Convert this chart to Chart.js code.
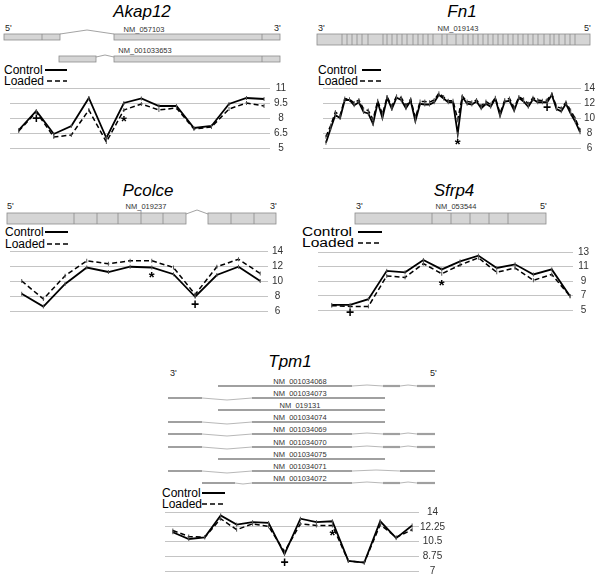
<!DOCTYPE html>
<html>
<head>
<meta charset="utf-8">
<script src="https://cdn.jsdelivr.net/npm/chart.js@4"></script>
<style>
html, body { margin: 0; padding: 0; background: #fff; }
#fig { position: relative; width: 600px; height: 579px; overflow: hidden; font-family: "Liberation Sans", Arial, sans-serif; }
#fig canvas { position: absolute; }
#genes { position: absolute; left: 0; top: 0; }
.ex { fill: #d5d5d5; stroke: #8c8c8c; stroke-width: 0.8; }
.dv { stroke: #8c8c8c; stroke-width: 0.8; }
.in { fill: none; stroke: #8c8c8c; stroke-width: 0.8; }
.te { stroke: #a0a0a0; stroke-width: 2.2; }
.ti { fill: none; stroke: #b8b8b8; stroke-width: 1; }
.nm { font-size: 7.5px; fill: #333; text-anchor: middle; }
.end { font-size: 9px; fill: #222; }
.ttl { font-size: 17px; font-style: italic; text-anchor: middle; }
.lg { font-size: 12px; }
</style>
</head>
<body>
<div id="fig">
<svg id="genes" width="600" height="579" font-family="Liberation Sans, Arial, sans-serif">
  <!-- titles -->
  <text class="ttl" x="142" y="17">Akap12</text>
  <text class="ttl" x="462" y="17">Fn1</text>
  <text class="ttl" x="148" y="196">Pcolce</text>
  <text class="ttl" x="454" y="196">Sfrp4</text>
  <text class="ttl" x="290" y="367">Tpm1</text>

  <!-- Akap12 transcripts -->
  <text class="end" x="5" y="31">5'</text>
  <text class="end" x="274" y="31">3'</text>
  <text class="nm" x="144" y="31.5">NM_057103</text>
  <rect class="ex" x="4" y="34" width="56" height="6"/>
  <line class="dv" x1="42" y1="34" x2="42" y2="40"/>
  <polyline class="in" points="60,34 87,30 114,34"/>
  <rect class="ex" x="114" y="34" width="166" height="6"/>
  <line class="dv" x1="262" y1="34" x2="262" y2="40"/>
  <text class="nm" x="145" y="52.5">NM_001033653</text>
  <rect class="ex" x="59" y="56" width="37" height="6"/>
  <polyline class="in" points="96,57 105,55 114,57"/>
  <rect class="ex" x="114" y="56" width="166" height="6"/>
  <line class="dv" x1="262" y1="56" x2="262" y2="62"/>

  <!-- Fn1 transcript -->
  <text class="end" x="318" y="31">3'</text>
  <text class="end" x="584" y="31">5'</text>
  <text class="nm" x="458" y="31">NM_019143</text>
  <rect class="ex" x="317" y="34" width="273" height="11"/>
  <g class="dv">
    <line x1="342" y1="34" x2="342" y2="45"/><line x1="347" y1="34" x2="347" y2="45"/>
    <line x1="352" y1="34" x2="352" y2="45"/><line x1="357" y1="34" x2="357" y2="45"/>
    <line x1="362" y1="34" x2="362" y2="45"/><line x1="368" y1="34" x2="368" y2="45"/>
    <line x1="383" y1="34" x2="383" y2="45"/><line x1="387" y1="34" x2="387" y2="45"/>
    <line x1="392" y1="34" x2="392" y2="45"/><line x1="397" y1="34" x2="397" y2="45"/>
    <line x1="402" y1="34" x2="402" y2="45"/><line x1="407" y1="34" x2="407" y2="45"/>
    <line x1="413" y1="34" x2="413" y2="45"/><line x1="418" y1="34" x2="418" y2="45"/>
    <line x1="423" y1="34" x2="423" y2="45"/><line x1="428" y1="34" x2="428" y2="45"/>
    <line x1="433" y1="34" x2="433" y2="45"/><line x1="442" y1="34" x2="442" y2="45"/>
    <line x1="447" y1="34" x2="447" y2="45"/><line x1="456" y1="34" x2="456" y2="45"/>
    <line x1="463" y1="34" x2="463" y2="45"/><line x1="468" y1="34" x2="468" y2="45"/>
    <line x1="473" y1="34" x2="473" y2="45"/><line x1="478" y1="34" x2="478" y2="45"/>
    <line x1="483" y1="34" x2="483" y2="45"/><line x1="488" y1="34" x2="488" y2="45"/>
    <line x1="493" y1="34" x2="493" y2="45"/><line x1="498" y1="34" x2="498" y2="45"/>
    <line x1="503" y1="34" x2="503" y2="45"/><line x1="508" y1="34" x2="508" y2="45"/>
    <line x1="513" y1="34" x2="513" y2="45"/><line x1="518" y1="34" x2="518" y2="45"/>
    <line x1="523" y1="34" x2="523" y2="45"/><line x1="528" y1="34" x2="528" y2="45"/>
    <line x1="533" y1="34" x2="533" y2="45"/><line x1="538" y1="34" x2="538" y2="45"/>
    <line x1="544" y1="34" x2="544" y2="45"/><line x1="550" y1="34" x2="550" y2="45"/>
    <line x1="554" y1="34" x2="554" y2="45"/><line x1="559" y1="34" x2="559" y2="45"/>
    <line x1="565" y1="34" x2="565" y2="45"/><line x1="570" y1="34" x2="570" y2="45"/>
    <line x1="575" y1="34" x2="575" y2="45"/>
  </g>

  <!-- Pcolce transcript -->
  <text class="end" x="7" y="209">5'</text>
  <text class="end" x="270" y="209">3'</text>
  <text class="nm" x="146" y="209">NM_019237</text>
  <rect class="ex" x="7" y="213" width="179" height="11"/>
  <line class="dv" x1="74" y1="213" x2="74" y2="224"/>
  <line class="dv" x1="97" y1="213" x2="97" y2="224"/>
  <line class="dv" x1="118" y1="213" x2="118" y2="224"/>
  <line class="dv" x1="141" y1="211" x2="141" y2="224"/>
  <line class="dv" x1="163" y1="213" x2="163" y2="224"/>
  <polyline class="in" points="186,214 197,210 208,214"/>
  <rect class="ex" x="208" y="213" width="68" height="11"/>
  <line class="dv" x1="231" y1="213" x2="231" y2="224"/>
  <line class="dv" x1="254" y1="213" x2="254" y2="224"/>

  <!-- Sfrp4 transcript -->
  <text class="end" x="356" y="209">3'</text>
  <text class="end" x="540" y="209">5'</text>
  <text class="nm" x="456" y="209">NM_053544</text>
  <rect class="ex" x="355" y="213" width="191" height="11"/>
  <line class="dv" x1="432" y1="213" x2="432" y2="224"/>
  <line class="dv" x1="451" y1="213" x2="451" y2="224"/>
  <line class="dv" x1="470" y1="213" x2="470" y2="224"/>
  <line class="dv" x1="489" y1="213" x2="489" y2="224"/>
  <line class="dv" x1="508" y1="213" x2="508" y2="224"/>

  <!-- Tpm1 transcripts -->
  <text class="end" x="170" y="376">3'</text>
  <text class="end" x="430" y="376">5'</text>

  <text class="nm" x="300" y="383.5">NM_001034068</text>
  <line class="te" x1="218" y1="386" x2="352" y2="386"/>
  <polyline class="ti" points="352,386 367,385 383,386"/>
  <line class="te" x1="383" y1="386" x2="400" y2="386"/>
  <polyline class="ti" points="400,386 408,385 417,386"/>
  <line class="te" x1="417" y1="386" x2="435" y2="386"/>

  <text class="nm" x="300" y="395.5">NM_001034073</text>
  <line class="te" x1="168" y1="398" x2="202" y2="398"/>
  <polyline class="ti" points="202,398 227,400 252,398"/>
  <line class="te" x1="252" y1="398" x2="385" y2="398"/>

  <text class="nm" x="300" y="407.5">NM_019131</text>
  <line class="te" x1="218" y1="410" x2="385" y2="410"/>

  <text class="nm" x="300" y="419.5">NM_001034074</text>
  <line class="te" x1="168" y1="422" x2="202" y2="422"/>
  <polyline class="ti" points="202,422 227,424 252,422"/>
  <line class="te" x1="252" y1="422" x2="385" y2="422"/>

  <text class="nm" x="300" y="431.5">NM_001034069</text>
  <line class="te" x1="168" y1="434" x2="202" y2="434"/>
  <polyline class="ti" points="202,434 227,436 252,434"/>
  <line class="te" x1="252" y1="434" x2="352" y2="434"/>
  <polyline class="ti" points="352,434 367,433 383,434"/>
  <line class="te" x1="383" y1="434" x2="400" y2="434"/>
  <polyline class="ti" points="400,434 408,433 417,434"/>
  <line class="te" x1="417" y1="434" x2="435" y2="434"/>

  <text class="nm" x="300" y="444.5">NM_001034070</text>
  <line class="te" x1="168" y1="447" x2="202" y2="447"/>
  <polyline class="ti" points="202,447 227,449 252,447"/>
  <line class="te" x1="252" y1="447" x2="352" y2="447"/>
  <polyline class="ti" points="352,447 367,446 383,447"/>
  <line class="te" x1="383" y1="447" x2="400" y2="447"/>
  <polyline class="ti" points="400,447 408,446 417,447"/>
  <line class="te" x1="417" y1="447" x2="435" y2="447"/>

  <text class="nm" x="300" y="456.5">NM_001034075</text>
  <line class="te" x1="218" y1="459" x2="385" y2="459"/>

  <text class="nm" x="300" y="468.5">NM_001034071</text>
  <line class="te" x1="168" y1="471" x2="202" y2="471"/>
  <polyline class="ti" points="202,471 227,473 252,471"/>
  <line class="te" x1="252" y1="471" x2="352" y2="471"/>
  <polyline class="ti" points="352,471 376,470 400,471"/>
  <line class="te" x1="400" y1="471" x2="435" y2="471"/>

  <text class="nm" x="300" y="480.5">NM_001034072</text>
  <line class="te" x1="202" y1="483" x2="235" y2="483"/>
  <polyline class="ti" points="235,483 243,484 252,483"/>
  <line class="te" x1="252" y1="483" x2="352" y2="483"/>
  <polyline class="ti" points="352,483 367,482 383,483"/>
  <line class="te" x1="383" y1="483" x2="400" y2="483"/>
  <polyline class="ti" points="400,483 408,482 417,483"/>
  <line class="te" x1="417" y1="483" x2="435" y2="483"/>

  <!-- legends -->
  <g stroke="#000" stroke-width="2">
    <line x1="45" y1="70" x2="67" y2="70"/>
    <line x1="47" y1="81" x2="67" y2="81" stroke-dasharray="5,3" stroke-width="1.6"/>
    <line x1="362" y1="70" x2="381" y2="70"/>
    <line x1="360" y1="81" x2="381" y2="81" stroke-dasharray="5,3" stroke-width="1.6"/>
    <line x1="45" y1="232" x2="68" y2="232"/>
    <line x1="47" y1="244" x2="68" y2="244" stroke-dasharray="5,3" stroke-width="1.6"/>
    <line x1="358" y1="232" x2="382" y2="232"/>
    <line x1="358" y1="243" x2="382" y2="243" stroke-dasharray="5,3" stroke-width="1.6"/>
    <line x1="202" y1="493" x2="225" y2="493"/>
    <line x1="202" y1="504" x2="225" y2="504" stroke-dasharray="5,3" stroke-width="1.6"/>
  </g>
  <text class="lg" x="4" y="74">Control</text>
  <text class="lg" x="4" y="85">Loaded</text>
  <text class="lg" x="318" y="74">Control</text>
  <text class="lg" x="318" y="85">Loaded</text>
  <text class="lg" x="5" y="236">Control</text>
  <text class="lg" x="5" y="248">Loaded</text>
  <text class="lg" x="302" y="236" textLength="50" lengthAdjust="spacingAndGlyphs">Control</text>
  <text class="lg" x="302" y="247" textLength="52" lengthAdjust="spacingAndGlyphs">Loaded</text>
  <text class="lg" x="162" y="497">Control</text>
  <text class="lg" x="162" y="508">Loaded</text>
</svg>
<canvas id="akapChart"></canvas>
<canvas id="fn1Chart"></canvas>
<canvas id="pcolceChart"></canvas>
<canvas id="sfrp4Chart"></canvas>
<canvas id="tpm1Chart"></canvas>
</div>

<script>
// ---- data ----
// Akap12
const akapTicks = [5, 6.5, 8, 9.5, 11];
const akapControl = [6.8, 8.7, 6.4, 7.2, 10.0, 6.0, 9.5, 9.95, 9.2, 9.2, 7.0, 7.2, 9.4, 10.0, 9.9];
const akapLoaded = [6.7, 8.6, 6.1, 6.3, 8.8, 5.6, 8.8, 9.4, 8.8, 9.0, 6.9, 7.1, 8.9, 9.5, 9.2];
const akapMarks = [['+', 1, 7.9], ['*', 6, 8.0]];

// Fn1
const fn1Ticks = [6, 8, 10, 12, 14];
const fn1Control = [6.7, 8.6, 10.4, 10.0, 12.4, 12.4, 11.7, 12.1, 10.8, 10.6, 9.2, 12.1, 10.0, 12.7,
	11.2, 12.7, 12.4, 11.3, 12.3, 9.6, 11.9, 11.8, 11.8, 12.1, 13.1, 12.6, 12.1, 12.1, 7.9, 12.8,
	11.9, 11.8, 12.2, 11.3, 11.9, 11.5, 12.6, 10.3, 12.2, 12.3, 11.0, 12.7, 12.2, 11.5, 12.5, 12.1,
	12.1, 12.1, 13.1, 11.2, 10.9, 11.9, 10.6, 9.5, 8.1];
const fn1Loaded = [7.5, 9.0, 10.8, 10.3, 12.6, 12.5, 12.0, 12.4, 11.2, 11.0, 9.8, 12.3, 10.5, 12.8,
	11.6, 12.9, 12.7, 11.7, 12.5, 10.0, 12.2, 12.2, 12.1, 12.4, 13.3, 12.8, 12.3, 12.3, 9.8, 12.9,
	12.2, 12.1, 12.4, 11.6, 12.2, 11.8, 12.7, 10.6, 12.4, 12.6, 11.4, 12.8, 12.5, 11.9, 12.7, 12.4,
	12.3, 12.4, 13.2, 11.5, 11.3, 12.1, 11.0, 9.9, 8.4];
const fn1Marks = [['*', 28, 6.9], ['+', 47, 11.3]];

// Pcolce
const pcolceTicks = [6, 8, 10, 12, 14];
const pcolceControl = [8.3, 6.6, 9.6, 11.8, 11.2, 11.9, 11.8, 10.9, 7.9, 10.8, 11.9, 10.0];
const pcolceLoaded = [10.0, 7.6, 10.7, 12.7, 12.3, 12.7, 12.7, 11.8, 8.2, 11.9, 12.9, 11.0];
const pcolceMarks = [['*', 6, 10.9], ['+', 8, 6.8]];

// Sfrp4
const sfrp4Ticks = [5, 7, 9, 11, 13];
const sfrp4Control = [5.7, 5.7, 6.5, 10.4, 10.2, 11.9, 10.6, 11.7, 12.5, 10.8, 11.3, 9.9, 10.6, 6.9];
const sfrp4Loaded = [5.6, 5.5, 5.5, 9.7, 9.5, 11.4, 10.0, 11.2, 12.2, 10.2, 10.8, 9.1, 9.9, 6.9];
const sfrp4Marks = [['*', 6, 8.9], ['+', 1, 4.5]];

// Tpm1
const tpm1Ticks = [7, 8.75, 10.5, 12.25, 14];
const tpm1Control = [11.6, 10.8, 11.0, 13.6, 12.5, 12.8, 12.7, 9.0, 13.2, 12.8, 12.9, 8.2, 8.0, 12.9, 10.9, 12.4];
const tpm1Loaded = [11.8, 11.1, 11.0, 13.2, 11.9, 12.6, 12.3, 9.3, 12.6, 12.4, 12.4, 8.2, 8.0, 12.5, 11.0, 11.9];
const tpm1Marks = [['+', 7, 7.9], ['*', 10, 11.7]];

// ---- layout ----
const PAD = 10;
const FONT = '"Liberation Sans", Arial, sans-serif';

// draw the + and * significance marks at data coordinates
const markPlugin = {
	id: 'marks',
	afterDatasetsDraw(chart, args, opts) {
		const ctx = chart.ctx;
		const xs = chart.scales.x, ys = chart.scales.y;
		ctx.save();
		ctx.fillStyle = '#000';
		ctx.textAlign = 'center';
		ctx.textBaseline = 'middle';
		(opts.list || []).forEach(m => {
			ctx.font = m[0] === '*' ? 'bold 15px ' + FONT : 'bold 14px ' + FONT;
			const dy = m[0] === '*' ? 4 : 0;
			ctx.fillText(m[0], xs.getPixelForValue(m[1]), ys.getPixelForValue(m[2]) + dy);
		});
		ctx.restore();
	}
};

function drawPanel(id, box, control, loaded, ticks, marks) {
	const canvas = document.getElementById(id);
	canvas.width = box.right - box.left + box.axisW;
	canvas.height = box.bottom - box.top + 2 * PAD;
	canvas.style.left = box.left + 'px';
	canvas.style.top = (box.top - PAD) + 'px';

	const line = (values, dashed) => ({
		data: values,
		borderColor: '#000',
		borderWidth: dashed ? 1.5 : 1.8,
		borderDash: dashed ? [5, 3] : [],
		pointStyle: 'line',
		rotation: 90,
		pointRadius: 2,
		pointBorderColor: '#555',
		pointBorderWidth: 1,
		tension: 0,
		fill: false,
		clip: false
	});

	return new Chart(canvas, {
		type: 'line',
		data: {
			labels: control.map((v, i) => i),
			datasets: [line(loaded, true), line(control, false)]
		},
		plugins: [markPlugin],
		options: {
			responsive: false,
			animation: false,
			devicePixelRatio: 1,
			layout: { padding: { top: PAD, bottom: PAD, left: 0, right: 0 } },
			plugins: {
				legend: { display: false },
				tooltip: { enabled: false },
				marks: { list: marks }
			},
			scales: {
				x: { type: 'linear', display: false, min: box.xmin, max: box.xmax },
				y: {
					position: 'right',
					min: ticks[0],
					max: ticks[ticks.length - 1],
					border: { display: false },
					grid: { color: '#c4c4c4', lineWidth: 1, drawTicks: false },
					ticks: {
						autoSkip: false,
						padding: box.tickPad,
						crossAlign: 'center',
						color: '#333',
						font: { family: FONT, size: 10 },
						callback: v => String(v)
					},
					afterBuildTicks: s => { s.ticks = ticks.map(v => ({ value: v })); },
					afterFit: s => { s.width = box.axisW; }
				}
			}
		}
	});
}

drawPanel('akapChart', { left: 5, right: 270, top: 88, bottom: 148, axisW: 25, tickPad: 4, xmin: -0.5, xmax: 14.34 },
	akapControl, akapLoaded, akapTicks, akapMarks);
drawPanel('fn1Chart', { left: 318, right: 581, top: 88, bottom: 148, axisW: 19, tickPad: 3, xmin: -0.63, xmax: 54.2 },
	fn1Control, fn1Loaded, fn1Ticks, fn1Marks);
drawPanel('pcolceChart', { left: 5, right: 268, top: 251, bottom: 311, axisW: 25, tickPad: 4, xmin: -0.54, xmax: 11.36 },
	pcolceControl, pcolceLoaded, pcolceTicks, pcolceMarks);
drawPanel('sfrp4Chart', { left: 313, right: 573, top: 251, bottom: 311, axisW: 25, tickPad: 5, xmin: -0.75, xmax: 13.16 },
	sfrp4Control, sfrp4Loaded, sfrp4Ticks, sfrp4Marks);
drawPanel('tpm1Chart', { left: 160, right: 419, top: 512, bottom: 571, axisW: 30, tickPad: 1, xmin: -0.49, xmax: 15.43 },
	tpm1Control, tpm1Loaded, tpm1Ticks, tpm1Marks);
</script>
</body>
</html>
